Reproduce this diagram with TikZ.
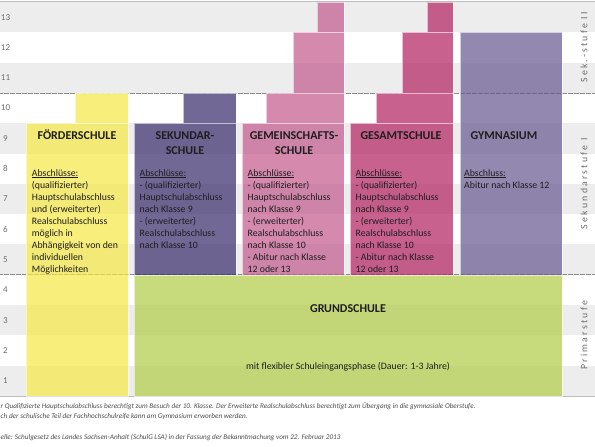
\documentclass[tikz,border=0pt]{standalone}
\usepackage{fontspec}
\setmainfont{Carlito}
\definecolor{streifen}{HTML}{EDEDED}
\definecolor{rahmen}{HTML}{BDBDBD}
\definecolor{hgrau}{HTML}{6E6E6E}
\definecolor{schrift}{HTML}{1E1E1E}
\definecolor{foerd}{HTML}{F6E844}
\definecolor{sek}{HTML}{37296A}
\definecolor{gem}{HTML}{C2588B}
\definecolor{ges}{HTML}{B21F5F}
\definecolor{gym}{HTML}{66568E}
\definecolor{grund}{HTML}{B0CD47}
\tikzset{
  saeule/.style={draw=white,draw opacity=0.6,line width=0.4pt,fill opacity=0.7},
  rand/.style={rahmen,line width=0.8pt},
  trenn/.style={hgrau!80,line width=0.5pt,dash pattern=on 0.5pt off 0.7pt},
  titel/.style={font=\fontsize{12}{15}\selectfont\bfseries,align=center,inner sep=0pt,anchor=base,schrift},
  abschl/.style={font=\fontsize{9.8}{12}\selectfont,align=left,inner sep=0pt,anchor=north west,schrift},
  klasse/.style={font=\fontsize{9}{10}\selectfont,hgrau,inner sep=0pt},
  stufe/.style={rotate=90,font=\fontsize{9.8}{12}\selectfont\addfontfeature{LetterSpace=23},hgrau,inner sep=0pt},
  fuss/.style={font=\fontsize{7.2}{8}\selectfont\itshape,text=hgrau!70!black,inner sep=0pt,anchor=base west},
}
\begin{document}
\begin{tikzpicture}[x=1pt,y=-1pt]
  \useasboundingbox (0,0) rectangle (595,447);
  \fill[white] (0,0) rectangle (595,447);
  % Zeilen: ungerade Klassen grau hinterlegt
  \foreach \g in {1,3,...,13}
    \fill[streifen] (0,{2+(13-\g)*30.3}) rectangle (595,{2+(14-\g)*30.3});
  \foreach \g in {1,...,13}
    \node[klasse] (kl\g) at (5.5,{2+(13.5-\g)*30.3}) {\g};
  \draw[rand] (0,1.5)--(595,1.5);
  \draw[rand] (0,396)--(595,396);
  % Grenzen der Stufen
  \draw[trenn] (0,92.9)--(595,92.9);
  \draw[trenn] (0,274.7)--(595,274.7);

  % Foerderschule
  \draw[saeule,fill=foerd] (75,92.9) rectangle (128,123.2);
  \draw[saeule,fill=foerd] (26,123.2) rectangle (128,395.9);
  % Sekundarschule
  \draw[saeule,fill=sek] (183,92.9) rectangle (236,123.2);
  \draw[saeule,fill=sek] (134,123.2) rectangle (236,274.7);
  % Gemeinschaftsschule
  \draw[saeule,fill=gem] (317,2) rectangle (344,32.3);
  \draw[saeule,fill=gem] (293,32.3) rectangle (344,92.9);
  \draw[saeule,fill=gem] (266,92.9) rectangle (344,123.2);
  \draw[saeule,fill=gem] (242,123.2) rectangle (344,274.7);
  % Gesamtschule
  \draw[saeule,fill=ges] (427,2) rectangle (453,32.3);
  \draw[saeule,fill=ges] (402,32.3) rectangle (453,92.9);
  \draw[saeule,fill=ges] (376,92.9) rectangle (453,123.2);
  \draw[saeule,fill=ges] (350,123.2) rectangle (453,274.7);
  % Gymnasium
  \draw[saeule,fill=gym] (460,32.3) rectangle (562,274.7);
  % Grundschule
  \draw[saeule,fill=grund] (134,274.7) rectangle (562,395.9);

  % Titel: Grundlinie der letzten Zeile
  \node[titel] (foerderT) at (77,139) {FÖRDERSCHULE};
  \node[abschl] (foerderA) at (31.7,169) {\underline{Abschlüsse:}\\(qualifizierter)\\Hauptschulabschluss\\und (erweiterter)\\Realschulabschluss\\möglich in\\Abhängigkeit von den\\individuellen\\Möglichkeiten};
  \node[titel] (sekT) at (185,154) {SEKUNDAR-\\SCHULE};
  \node[abschl] (sekA) at (139.5,169) {\underline{Abschlüsse:}\\- (qualifizierter)\\Hauptschulabschluss\\nach Klasse 9\\- (erweiterter)\\Realschulabschluss\\nach Klasse 10};
  \node[titel] (gemT) at (294,154) {GEMEINSCHAFTS-\\SCHULE};
  \node[abschl] (gemA) at (247.5,169) {\underline{Abschlüsse:}\\- (qualifizierter)\\Hauptschulabschluss\\nach Klasse 9\\- (erweiterter)\\Realschulabschluss\\nach Klasse 10\\- Abitur nach Klasse\\12 oder 13};
  \node[titel] (gesT) at (401,139) {GESAMTSCHULE};
  \node[abschl] (gesA) at (355.5,169) {\underline{Abschlüsse:}\\- (qualifizierter)\\Hauptschulabschluss\\nach Klasse 9\\- (erweiterter)\\Realschulabschluss\\nach Klasse 10\\- Abitur nach Klasse\\12 oder 13};
  \node[titel] (gymT) at (504,139) {GYMNASIUM};
  \node[abschl] (gymA) at (464,169) {\underline{Abschluss:}\\Abitur nach Klasse 12};
  \node[titel] (grundT) at (348,312) {GRUNDSCHULE};
  \node[abschl,anchor=base] (grundA) at (348,369) {mit flexibler Schuleingangsphase (Dauer: 1-3 Jahre)};

  % Stufen rechts
  \node[stufe] (sek2) at (584,47.5) {Sek.-stufe II};
  \node[stufe] (sek1) at (584,183.8) {Sekundarstufe I};
  \node[stufe] (prim) at (584,335.3) {Primarstufe};

  % Fussnoten (am linken Rand angeschnitten)
  \node[fuss] (fn1) at (0.5,408) {r Qualifizierte Hauptschulabschluss berechtigt zum Besuch der 10. Klasse. Der Erweiterte Realschulabschluss berechtigt zum Übergang in die gymnasiale Oberstufe.};
  \node[fuss] (fn2) at (0.5,418) {ch der schulische Teil der Fachhochschulreife kann am Gymnasium erworben werden.};
  \node[fuss] (fn3) at (0.5,439) {elle: Schulgesetz des Landes Sachsen-Anhalt (SchulG LSA) in der Fassung der Bekanntmachung vom 22. Februar 2013};
\end{tikzpicture}
\end{document}
